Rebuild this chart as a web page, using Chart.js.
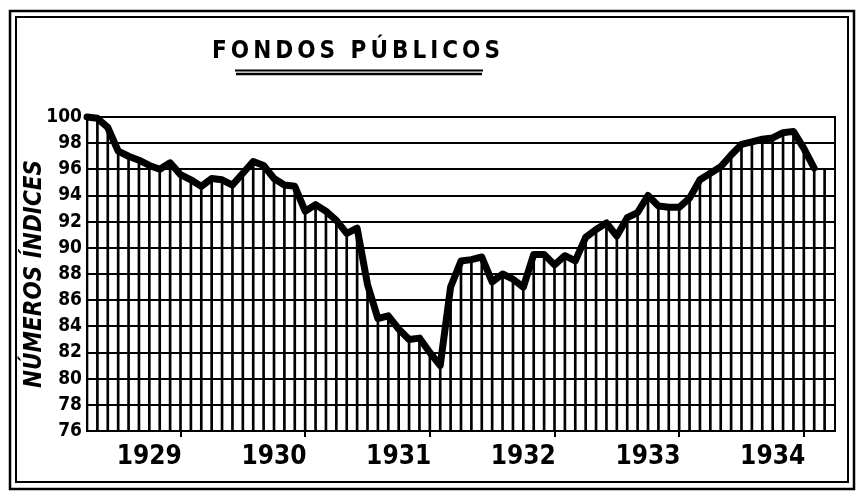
<!DOCTYPE html>
<html>
<head>
<meta charset="utf-8">
<script src="https://cdn.jsdelivr.net/npm/chart.js@4/dist/chart.umd.min.js"></script>
<style>
html,body{margin:0;padding:0;background:#fff;}
#c{display:block;}
</style>
</head>
<body>
<canvas id="c" width="862" height="504" style="width:862px;height:504px"></canvas>
<script>
// ---- data ----
const TITLE = 'FONDOS PÚBLICOS';
const Y_LABEL = 'NÚMEROS ÍNDICES';
const YEARS = ['1929', '1930', '1931', '1932', '1933', '1934'];
const Y_MIN = 76, Y_MAX = 100, Y_STEP = 2;
// monthly index numbers, Jan 1929 .. Nov 1934
const MONTHLY_INDEX = [
  100.0, 99.9, 99.2, 97.4, 97.0, 96.7, 96.3, 96.0, 96.5, 95.6, 95.2, 94.7,
  95.3, 95.2, 94.8, 95.7, 96.6, 96.3, 95.3, 94.8, 94.7, 92.8, 93.3, 92.8,
  92.1, 91.1, 91.5, 87.2, 84.6, 84.8, 83.8, 83.0, 83.1, 82.0, 81.0, 87.0,
  89.0, 89.1, 89.3, 87.4, 88.0, 87.6, 87.0, 89.5, 89.5, 88.7, 89.4, 89.0,
  90.8, 91.4, 91.9, 90.9, 92.3, 92.7, 94.0, 93.2, 93.1, 93.1, 93.8, 95.2,
  95.7, 96.2, 97.1, 97.9, 98.1, 98.3, 98.4, 98.8, 98.9, 97.6, 96.1
];
// height of the hatching for the last month (no line drawn there)
const HATCH_TAIL = [96.0];

const COND = "'DejaVu Sans Condensed','DejaVu Sans',sans-serif";

const linePoints = MONTHLY_INDEX.map((v, i) => ({x: i, y: v}));
const hatchPoints = MONTHLY_INDEX.concat(HATCH_TAIL).map((v, i) => ({x: i, y: v}));

const decor = {
  id: 'decor',
  beforeDraw(chart) {
    const c = chart.ctx;
    c.save();
    c.fillStyle = '#fff';
    c.fillRect(0, 0, chart.width, chart.height);
    c.restore();
  },
  afterDraw(chart) {
    const c = chart.ctx;
    c.save();
    c.strokeStyle = '#000';
    // double frame
    c.lineWidth = 2.5;
    c.strokeRect(10, 11, 844, 478);
    c.lineWidth = 2;
    c.strokeRect(16, 17, 832, 465);
    // title
    c.fillStyle = '#000';
    c.font = 'bold 24px ' + COND;
    c.letterSpacing = '4px';
    c.textAlign = 'center';
    c.textBaseline = 'alphabetic';
    c.fillText(TITLE, 358, 58);
    c.letterSpacing = '0px';
    // double underline
    c.lineWidth = 2;
    c.beginPath(); c.moveTo(235, 70.5); c.lineTo(483, 70.5); c.stroke();
    c.lineWidth = 2.5;
    c.beginPath(); c.moveTo(236, 74); c.lineTo(482, 74); c.stroke();
    c.restore();
  }
};

new Chart(document.getElementById('c'), {
  type: 'line',
  data: {
    datasets: [
      {
        type: 'line',
        data: linePoints,
        borderColor: '#000',
        borderWidth: 7,
        pointRadius: 0,
        tension: 0,
        borderJoinStyle: 'round',
        borderCapStyle: 'round',
        fill: false,
        clip: false,
        order: 0
      },
      {
        type: 'bar',
        data: hatchPoints,
        backgroundColor: '#000',
        borderWidth: 0,
        barThickness: 2,
        order: 1
      }
    ]
  },
  options: {
    responsive: false,
    animation: false,
    events: [],
    layout: {padding: {left: 0, top: 117, right: 27, bottom: 0}},
    plugins: {
      legend: {display: false},
      tooltip: {enabled: false},
      title: {display: false}
    },
    scales: {
      x: {
        type: 'linear',
        min: 0,
        max: 72,
        offset: false,
        ticks: {
          stepSize: 6,
          maxTicksLimit: 20,
          autoSkip: false,
          maxRotation: 0,
          color: '#000',
          padding: 5,
          font: {family: COND, size: 26, weight: 'bold'},
          callback: (v) => (v % 12 === 6 ? YEARS[(v - 6) / 12] : '')
        },
        grid: {
          drawOnChartArea: false,
          drawTicks: true,
          tickLength: 6,
          lineWidth: 2,
          color: (ctx) => (ctx.tick && ctx.tick.value % 12 === 0 ? '#000' : 'rgba(0,0,0,0)')
        },
        border: {display: true, color: '#000', width: 2},
        afterFit: (s) => { s.height = 73; }
      },
      y: {
        min: Y_MIN,
        max: Y_MAX,
        ticks: {
          stepSize: Y_STEP,
          maxTicksLimit: 20,
          autoSkip: false,
          color: '#000',
          padding: 5,
          font: {family: COND, size: 19, weight: 'bold'}
        },
        grid: {color: '#000', lineWidth: 2, drawTicks: false},
        border: {display: true, color: '#000', width: 2},
        title: {
          display: true,
          text: Y_LABEL,
          color: '#000',
          font: {family: COND, size: 24, weight: 'bold', style: 'italic'},
          padding: {top: 20, bottom: 0}
        },
        afterFit: (s) => { s.width = 87; }
      },
      y2: {
        position: 'right',
        min: Y_MIN,
        max: Y_MAX,
        ticks: {display: false},
        grid: {drawOnChartArea: false, drawTicks: false},
        border: {display: true, color: '#000', width: 2},
        afterFit: (s) => { s.width = 0; }
      }
    }
  },
  plugins: [decor]
});
</script>
</body>
</html>
